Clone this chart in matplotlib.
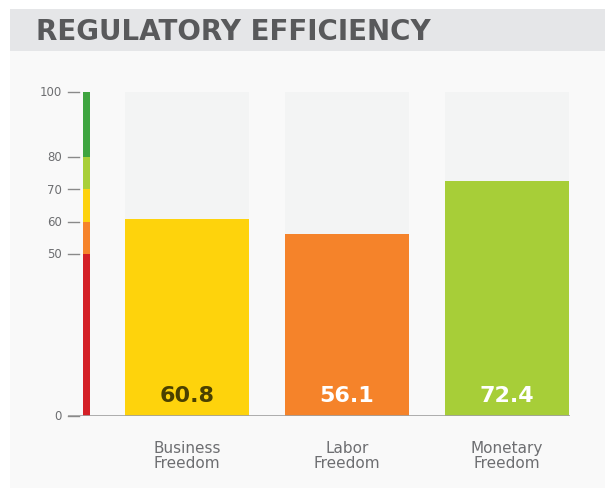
import matplotlib
matplotlib.use("Agg")
import matplotlib.pyplot as plt
from matplotlib.patches import Rectangle

categories = ["Business\nFreedom", "Labor\nFreedom", "Monetary\nFreedom"]
values = [60.8, 56.1, 72.4]
bar_colors = ["#fed30c", "#f5832a", "#a7ce38"]
label_colors = ["#4a4000", "#ffffff", "#ffffff"]
scale_bounds = [0, 50, 60, 70, 80, 100]
scale_colors = ["#d42027", "#f6842b", "#fdd20e", "#a8cf38", "#3fa540"]
tick_vals = [0, 50, 60, 70, 80, 100]
title = "REGULATORY EFFICIENCY"

W, H = 605, 489
fig = plt.figure(figsize=(W / 100, H / 100), dpi=100)
fig.patch.set_facecolor("white")

# panel background and header band
fig.add_artist(Rectangle((10 / W, 0), 1 - 10 / W, 1 - 52 / H, transform=fig.transFigure,
                         facecolor="#f9f9f9", edgecolor="none", zorder=-5))
fig.add_artist(Rectangle((10 / W, 1 - 52 / H), 1 - 10 / W, 42 / H, transform=fig.transFigure,
                         facecolor="#e5e6e8", edgecolor="none", zorder=-5))
fig.text(36 / W, 1 - 32 / H, title, fontsize=20, fontweight="bold", color="#58595b",
         family=["DejaVu Sans"], va="center", ha="left")

# axes: px x 68..570, y 93..417
x0, x1 = 68, 570
y0, y1 = 93, 417
ax = fig.add_axes([x0 / W, 1 - y1 / H, (x1 - x0) / W, (y1 - y0) / H])
ax.set_facecolor("none")
step = 160.0
c0 = 187.0
ax.set_xlim((x0 - c0) / step, (x1 - c0) / step)
ax.set_ylim(0, 100)
bw = 124 / step
xs = list(range(len(values)))

ax.bar(xs, [100] * len(values), width=bw, color="#f3f4f4", zorder=1)
ax.bar(xs, values, width=bw, color=bar_colors, zorder=2)
for x, v, lc in zip(xs, values, label_colors):
    ax.text(x, 6.5, f"{v}", ha="center", va="center", fontsize=16, fontweight="bold",
            color=lc, family=["DejaVu Sans"], zorder=3)

# scale bar
sx = (86.5 - c0) / step
sw = 7 / step
for lo, hi, col in zip(scale_bounds[:-1], scale_bounds[1:], scale_colors):
    ax.bar(sx, hi - lo, bottom=lo, width=sw, color=col, zorder=2)

# ticks
tx0 = (68 - c0) / step
tx1 = (79 - c0) / step
for t in tick_vals:
    ax.plot([tx0, tx1], [t, t], color="#8a8a8a", lw=1, zorder=2, clip_on=False)
    ax.text((62 - c0) / step, t, str(t), ha="right", va="center", fontsize=8.5,
            color="#6d6e71", family=["DejaVu Sans"], clip_on=False)

ax.axhline(0, color="#a0a0a0", lw=1.2, zorder=3)

for s in ax.spines.values():
    s.set_visible(False)
ax.set_xticks([])
ax.set_yticks([])

for x, c in zip(xs, categories):
    ax.text(x, -7.5, c, ha="center", va="top", fontsize=11, color="#6d6e71",
            family=["DejaVu Sans"], linespacing=0.95)

fig.savefig("out.png", dpi=100, facecolor=fig.get_facecolor())
